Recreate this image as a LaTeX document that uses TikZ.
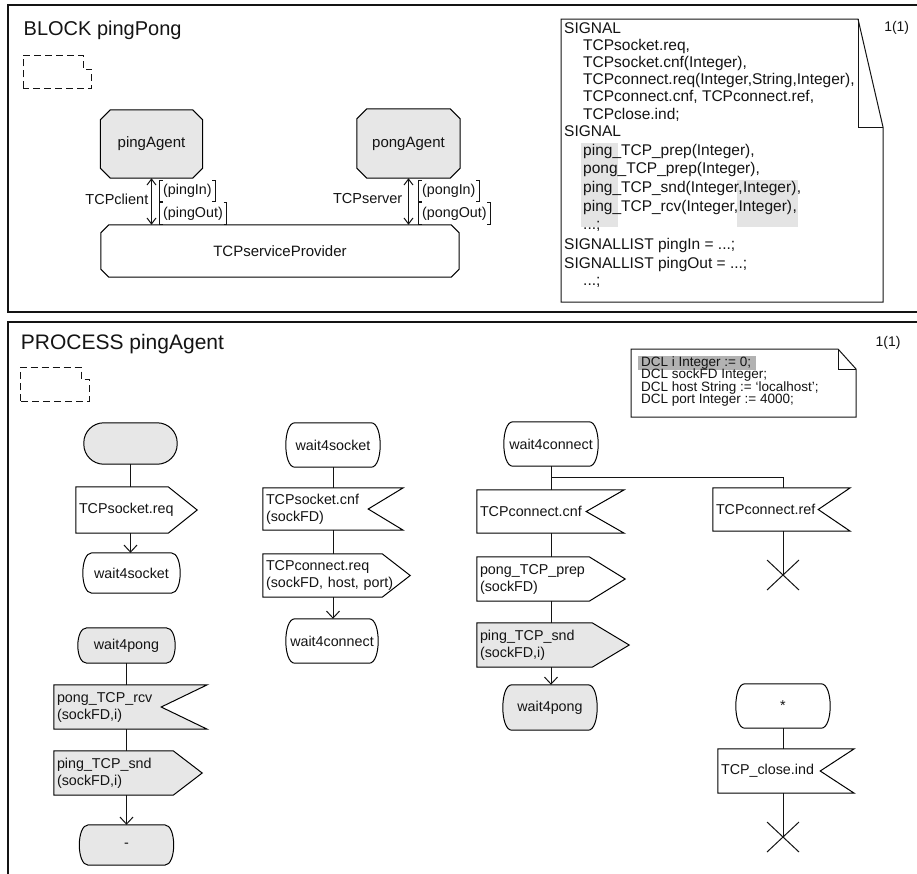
\documentclass[tikz,border=0pt]{standalone}
\usepackage{fontspec}
\setmainfont{Liberation Sans}
\usetikzlibrary{calc,arrows.meta,backgrounds}

\definecolor{symfill}{RGB}{231,231,231}
\definecolor{hilite}{RGB}{228,228,228}
\definecolor{dclmark}{RGB}{178,178,178}
\definecolor{ink}{RGB}{20,20,20}

\newcommand\fsz[2]{\fontsize{#1}{#2}\selectfont}

% SDL symbol outlines, drawn around named text nodes
% output signal: #1 fill, #2 node, #3 depth of the point
\newcommand\sdlout[3][white]{\filldraw[outline,fill=#1] (#2.north west) -- ($(#2.north east)+(-#3,0)$) -- (#2.east) -- ($(#2.south east)+(-#3,0)$) -- (#2.south west) -- cycle;}
% input signal: #3 depth of the notch
\newcommand\sdlin[3][white]{\filldraw[outline,fill=#1] (#2.north west) -- (#2.north east) -- ($(#2.east)+(-#3,0)$) -- (#2.south east) -- (#2.south west) -- cycle;}
% state symbol with bulging sides
\newcommand\sdlstate[2][white]{\filldraw[outline,fill=#1] ($(#2.north west)+(9,0)$) -- ($(#2.north east)+(-9,0)$) .. controls ($(#2.north east)+(3,0)$) and ($(#2.south east)+(3,0)$) .. ($(#2.south east)+(-9,0)$) -- ($(#2.south west)+(9,0)$) .. controls ($(#2.south west)+(-3,0)$) and ($(#2.north west)+(-3,0)$) .. ($(#2.north west)+(9,0)$) -- cycle;}
% start symbol
\newcommand\sdlpill[2][white]{\filldraw[outline,fill=#1,rounded corners=20pt] (#2.north west) rectangle (#2.south east);}
% block / process reference (chamfered corners)
\newcommand\sdloct[3][white]{\filldraw[outline,fill=#1] ($(#2.north west)+(#3,0)$) -- ($(#2.north east)+(-#3,0)$) -- ($(#2.north east)+(0,#3)$) -- ($(#2.south east)+(0,-#3)$) -- ($(#2.south east)+(-#3,0)$) -- ($(#2.south west)+(#3,0)$) -- ($(#2.south west)+(0,-#3)$) -- ($(#2.north west)+(0,#3)$) -- cycle;}
% stop symbol
\newcommand\sdlstop[1]{\draw[outline] ($(#1)+(-16,-15)$) -- ($(#1)+(16,15)$) ($(#1)+(-16,15)$) -- ($(#1)+(16,-15)$);}
% signal list brackets on a channel
\newcommand\chanbrackets[1]{\draw[outline] ($(#1.north west)+(3,0)$) -- (#1.north west) -- (#1.south west) -- ($(#1.south west)+(3,0)$) ($(#1.north east)+(-3,0)$) -- (#1.north east) -- (#1.south east) -- ($(#1.south east)+(-3,0)$);}

\tikzset{
  outline/.style={line width=1pt},
  frame/.style={line width=1.8pt},
  plain/.style={line width=1pt},
  flow/.style={line width=1pt,-{Straight Barb[length=7pt,width=13pt]}},
  chan/.style={line width=1pt,{Straight Barb[length=6pt,width=9pt]}-{Straight Barb[length=6pt,width=9pt]}},
  textsym/.style={line width=1pt,dash pattern=on 7pt off 4pt},
  title/.style={inner sep=0pt,anchor=base west},
  pagenum/.style={inner sep=0pt,font=\fsz{14}{16}},
  agent/.style={inner sep=0pt,font=\fsz{15}{18}},
  lbl/.style={inner sep=0pt,font=\fsz{14.5}{17}},
  chanlbl/.style={inner xsep=3.5pt,inner ysep=0pt,minimum height=21pt,anchor=west,font=\fsz{14.3}{17}},
  sym/.style={inner xsep=3pt,inner ysep=0pt,align=left,font=\fsz{14.3}{17}},
  statebox/.style={inner sep=0pt,align=center,font=\fsz{14.3}{17}},
  siglist/.style={inner sep=0pt,anchor=base west,font=\fsz{15.5}{18}},
  dcl/.style={inner sep=0pt,anchor=base west,font=\fsz{13.5}{13}},
}

\begin{document}
\begin{tikzpicture}[x=1pt,y=-1pt,color=ink]
\useasboundingbox (0,0) rectangle (917,873);
\clip (0,0) rectangle (917,873);

% ---------------- BLOCK pingPong ----------------
\node[title,font=\fsz{20}{24}] (blocktitle) at (23.5,35.7) {BLOCK pingPong};
\node[pagenum] (blockpage) at (896.7,28) {1(1)};

\node[agent,minimum width=102pt,minimum height=68pt] (ping) at (151.5,144) {pingAgent};
\node[agent,minimum width=103pt,minimum height=69pt] (pong) at (408.5,143.5) {pongAgent};
\node[agent,minimum width=358pt,minimum height=52pt] (tcpsp) at (280,251) {TCPserviceProvider};

\node[lbl,anchor=east] (lclient) at (148.5,199) {TCPclient};
\node[lbl,anchor=east] (lserver) at (402.5,199) {TCPserver};
\node[chanlbl] (pingin) at (159.5,191) {(pingIn)};
\node[chanlbl] (pingout) at (159.5,213.5) {(pingOut)};
\node[chanlbl] (pongin) at (418.5,191) {(pongIn)};
\node[chanlbl] (pongout) at (418.5,213.5) {(pongOut)};

% signal declarations
\node[siglist] (s1) at (564,33.5) {SIGNAL};
\node[siglist] (s2) at (583,50.6) {TCPsocket.req,};
\node[siglist] (s3) at (583,67.7) {TCPsocket.cnf(Integer),};
\node[siglist] (s4) at (583,84.8) {TCPconnect.req(Integer,String,Integer),};
\node[siglist] (s5) at (583,101.9) {TCPconnect.cnf, TCPconnect.ref,};
\node[siglist] (s6) at (583,119.0) {TCPclose.ind;};
\node[siglist] (s7) at (564,136.1) {SIGNAL};
\node[siglist] (s8) at (583,155.0) {ping\_TCP\_prep(Integer),};
\node[siglist] (s9) at (583,173.9) {pong\_TCP\_prep(Integer),};
\node[siglist] (s10) at (583,192.8) {ping\_TCP\_snd(Integer,};
\node[siglist] (s10b) at (s10.base east) {Integer)};
\node[siglist] (s10c) at (s10b.base east) {,};
\node[siglist] (s11) at (583,211.7) {ping\_TCP\_rcv(Integer,};
\node[siglist] (s11b) at (s11.base east) {Integer)};
\node[siglist] (s11c) at (s11b.base east) {,};
\node[siglist] (s12) at (583,229.5) {...;};
\node[siglist] (s13) at (564,249.5) {SIGNALLIST pingIn = ...;};
\node[siglist] (s14) at (564,268.4) {SIGNALLIST pingOut = ...;};
\node[siglist] (s15) at (583,285.5) {...;};

% ---------------- PROCESS pingAgent ----------------
\node[title,font=\fsz{21}{25}] (proctitle) at (20.7,349.3) {PROCESS pingAgent};
\node[pagenum] (procpage) at (888,343) {1(1)};

\node[dcl] (d1) at (641,366.8) {DCL i Integer := 0;};
\node[dcl] (d2) at (641,378.9) {DCL sockFD Integer;};
\node[dcl] (d3) at (641,391.0) {DCL host String := ‘localhost’;};
\node[dcl] (d4) at (641,403.1) {DCL port Integer := 4000;};

% column 1
\node[statebox,minimum width=93pt,minimum height=41pt] (start) at (130.5,443.5) {};
\node[sym,text width=115pt,minimum height=46pt] (sockreq) at (136.5,510) {TCPsocket.req};
\node[statebox,minimum width=97pt,minimum height=40pt] (waitsockA) at (131.5,573) {wait4socket};

\node[statebox,minimum width=97pt,minimum height=35pt] (waitpongA) at (126.5,645.5) {wait4pong};
\node[sym,text width=147pt,minimum height=44pt] (pongrcv) at (130.5,707) {pong\_TCP\_rcv\\(sockFD,i)};
\node[sym,text width=142pt,minimum height=44pt] (pingsndA) at (128,773) {ping\_TCP\_snd\\(sockFD,i)};
\node[statebox,minimum width=94pt,minimum height=40pt] (dashstate) at (126.5,845) {-};

% column 2
\node[statebox,minimum width=94pt,minimum height=44pt] (waitsockB) at (333,445) {wait4socket};
\node[sym,text width=134pt,minimum height=42pt] (sockcnf) at (333,509) {TCPsocket.cnf\\(sockFD)};
\node[sym,text width=141pt,minimum height=43pt] (connreq) at (336.5,575.5) {TCPconnect.req\\(sockFD, host, port)};
\node[statebox,minimum width=92pt,minimum height=44pt] (waitconnA) at (332,641) {wait4connect};

% column 3
\node[statebox,minimum width=94pt,minimum height=44pt] (waitconnB) at (551,444) {wait4connect};
\node[sym,text width=141pt,minimum height=43pt] (conncnf) at (550.5,511.5) {TCPconnect.cnf};
\node[sym,text width=142pt,minimum height=44pt] (pongprep) at (551,579) {pong\_TCP\_prep\\(sockFD)};
\node[sym,text width=146pt,minimum height=44pt] (pingsndB) at (553,645) {ping\_TCP\_snd\\(sockFD,i)};
\node[statebox,minimum width=94pt,minimum height=45pt] (waitpongB) at (550,707.5) {wait4pong};

% column 4
\node[sym,text width=131pt,minimum height=43pt] (connref) at (781.5,509.5) {TCPconnect.ref};
\coordinate (stopA) at (783,575);
\node[statebox,minimum width=94pt,minimum height=44pt] (star) at (783,706) {*};
\node[sym,text width=130pt,minimum height=44pt] (closeind) at (786,771) {TCP\_close.ind};
\coordinate (stopB) at (783,837);

% helper points for the highlights
\coordinate (hltop) at (0,180);
\coordinate (hlbot) at (0,227);
\coordinate (dclbot) at (0,369.5);
\path (d1.east) ++(5,0) coordinate (dclright);
\path (s11b.west) ++(-1,0) coordinate (intleft);
\path (s10b.east) ++(1,0) coordinate (intright);

\begin{pgfonlayer}{background}
  \fill[white] (0,0) rectangle (917,873);
  % highlights in the declarations
  \fill[hilite] (581,143) rectangle (618,227);
  \fill[hilite] (intleft |- hltop) rectangle (intright |- hlbot);
  \fill[dclmark] (638,356) rectangle (dclright |- dclbot);
  % block diagram
  \sdloct[symfill]{ping}{10}
  \sdloct[symfill]{pong}{10}
  \sdloct{tcpsp}{8}
  % process diagram
  \sdlpill[symfill]{start}
  \sdlout{sockreq}{29}
  \sdlstate{waitsockA}
  \sdlstate[symfill]{waitpongA}
  \sdlin[symfill]{pongrcv}{46}
  \sdlout[symfill]{pingsndA}{29}
  \sdlstate[symfill]{dashstate}
  \sdlstate{waitsockB}
  \sdlin{sockcnf}{35}
  \sdlout{connreq}{28}
  \sdlstate{waitconnA}
  \sdlstate{waitconnB}
  \sdlin{conncnf}{38}
  \sdlout{pongprep}{36}
  \sdlout[symfill]{pingsndB}{37}
  \sdlstate[symfill]{waitpongB}
  \sdlin{connref}{32}
  \sdlstate{star}
  \sdlin{closeind}{34}
\end{pgfonlayer}

% text symbols (dashed)
\draw[textsym] (23.3,88.3) -- (23.3,55) -- (83,55) -- (83,69) -- (91.7,69) -- (91.7,88.3) -- cycle;
\draw[textsym] (20.7,401) -- (20.7,367) -- (81,367) -- (81,379) -- (89.3,379) -- (89.3,401) -- cycle;

% signal declaration text box
\draw[outline] (561,19) -- (858,19) -- (883,127) -- (883,302) -- (561,302) -- cycle;
\draw[outline] (858,19) -- (858,127) -- (883,127);
% variable declaration text box
\draw[outline] (631,349) -- (838,349) -- (856,369) -- (856,417) -- (631,417) -- cycle;
\draw[outline] (838,349) -- (838,369) -- (856,369);

% channels
\draw[chan] (ping.south) -- (ping.south |- tcpsp.north);
\draw[chan] (pong.south) -- (pong.south |- tcpsp.north);
\chanbrackets{pingin}
\chanbrackets{pingout}
\chanbrackets{pongin}
\chanbrackets{pongout}

% flow lines
\draw[plain] (start.south) -- (start.south |- sockreq.north);
\draw[flow] (start.south |- sockreq.south) -- (start.south |- waitsockA.north);

\draw[plain] (waitpongA.south) -- (waitpongA.south |- pongrcv.north);
\draw[plain] (waitpongA.south |- pongrcv.south) -- (waitpongA.south |- pingsndA.north);
\draw[flow] (waitpongA.south |- pingsndA.south) -- (waitpongA.south |- dashstate.north);

\draw[plain] (waitsockB.south) -- (waitsockB.south |- sockcnf.north);
\draw[plain] (waitsockB.south |- sockcnf.south) -- (waitsockB.south |- connreq.north);
\draw[flow] (waitsockB.south |- connreq.south) -- (waitsockB.south |- waitconnA.north);

\coordinate (fork) at ($(waitconnB.south)+(0,11)$);
\draw[plain] (waitconnB.south) -- (waitconnB.south |- conncnf.north);
\draw[plain] (fork) -| (stopA |- connref.north);
\draw[plain] (waitconnB.south |- conncnf.south) -- (waitconnB.south |- pongprep.north);
\draw[plain] (waitconnB.south |- pongprep.south) -- (waitconnB.south |- pingsndB.north);
\draw[flow] (waitconnB.south |- pingsndB.south) -- (waitconnB.south |- waitpongB.north);

\draw[plain] (stopA |- connref.south) -- (stopA);
\sdlstop{stopA}
\draw[plain] (star.south) -- (star.south |- closeind.north);
\draw[plain] (star.south |- closeind.south) -- (stopB);
\sdlstop{stopB}

% diagram frames
\draw[frame] (930,5) -- (8,5) -- (8,312) -- (930,312);
\draw[frame] (930,322) -- (8,322) -- (8,890);
\end{tikzpicture}
\end{document}
